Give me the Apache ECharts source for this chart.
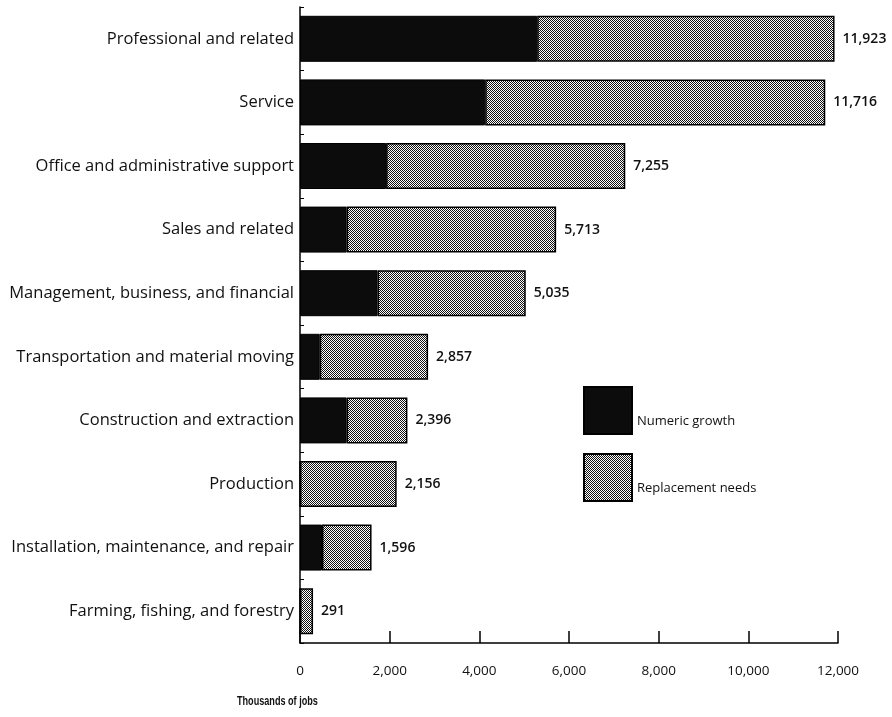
<!DOCTYPE html>
<html>
<head>
<meta charset="utf-8">
<script src="https://cdn.jsdelivr.net/npm/echarts@6/dist/echarts.min.js"></script>
<style>
html,body{margin:0;padding:0;background:#fff;}
#chart{width:892px;height:717px;}
</style>
</head>
<body>
<div id="chart"></div>
<script>
const categories = [
  "Professional and related",
  "Service",
  "Office and administrative support",
  "Sales and related",
  "Management, business, and financial",
  "Transportation and material moving",
  "Construction and extraction",
  "Production",
  "Installation, maintenance, and repair",
  "Farming, fishing, and forestry"
];
const totals = [11923, 11716, 7255, 5713, 5035, 2857, 2396, 2156, 1596, 291];
const numericGrowth = [5290, 4130, 1920, 1040, 1730, 440, 1040, 0, 490, 0];
const replacementNeeds = totals.map((t, i) => t - numericGrowth[i]);
const xTicks = [0, 2000, 4000, 6000, 8000, 10000, 12000];

// deterministic dither texture for the "replacement needs" fill
function makePattern() {
  const bayer = [
    [0, 8, 2, 10],
    [12, 4, 14, 6],
    [3, 11, 1, 9],
    [15, 7, 13, 5]
  ];
  const c = document.createElement('canvas');
  c.width = 8; c.height = 8;
  const ctx = c.getContext('2d');
  ctx.fillStyle = '#ffffff';
  ctx.fillRect(0, 0, 8, 8);
  ctx.fillStyle = '#111111';
  for (let y = 0; y < 8; y++) {
    for (let x = 0; x < 8; x++) {
      if (bayer[y % 4][x % 4] < 8) ctx.fillRect(x, y, 1, 1);
    }
  }
  return c;
}
const pattern = { image: makePattern(), repeat: 'repeat' };

const chart = echarts.init(document.getElementById('chart'));
const fontFam = '"Open Sans", "Liberation Sans", sans-serif';
chart.setOption({
  animation: false,
  grid: { left: 300, right: 54, top: 7, bottom: 74, containLabel: false },
  legend: {
    orient: 'vertical',
    left: 578,
    top: 381,
    itemWidth: 48,
    itemHeight: 47,
    itemGap: 18,
    formatter: '{t|{name}}',
    textStyle: {
      fontFamily: fontFam, fontSize: 13, color: '#111',
      rich: { t: { fontFamily: fontFam, fontSize: 13, color: '#111', padding: [22, 0, 0, 0] } }
    },
    data: [
      { name: 'Numeric growth', icon: 'rect' },
      { name: 'Replacement needs', icon: 'rect' }
    ]
  },
  xAxis: {
    type: 'value',
    min: xTicks[0],
    max: xTicks[xTicks.length - 1],
    interval: 2000,
    axisLine: { show: true, lineStyle: { color: '#000', width: 1.5 } },
    axisTick: { show: true, inside: true, length: 12, lineStyle: { color: '#000', width: 1.5 } },
    splitLine: { show: false },
    axisLabel: {
      margin: 21,
      fontFamily: fontFam,
      fontSize: 13.5,
      color: '#111',
      formatter: v => v.toLocaleString('en-US')
    }
  },
  yAxis: {
    type: 'category',
    inverse: true,
    data: categories,
    axisLine: { show: true, lineStyle: { color: '#000', width: 1.5 } },
    axisTick: { show: true, inside: true, length: 4, lineStyle: { color: '#000' } },
    axisLabel: {
      margin: 6,
      fontFamily: fontFam,
      fontSize: 16.5,
      color: '#111'
    }
  },
  series: [
    {
      name: 'Numeric growth',
      type: 'bar',
      stack: 'total',
      barWidth: 46,
      data: numericGrowth,
      itemStyle: { color: '#0c0c0c', borderColor: '#000', borderWidth: 1 }
    },
    {
      name: 'Replacement needs',
      type: 'bar',
      stack: 'total',
      barWidth: 46,
      data: replacementNeeds,
      itemStyle: { color: pattern, borderColor: '#000', borderWidth: 1.5 },
      label: {
        show: true,
        position: 'right',
        distance: 8,
        fontFamily: fontFam,
        fontSize: 14,
        fontWeight: 600,
        color: '#111',
        formatter: p => totals[p.dataIndex].toLocaleString('en-US')
      }
    }
  ],
  graphic: [
    {
      type: 'text',
      x: 237,
      y: 695,
      scaleX: 0.7,
      style: { text: 'Thousands of jobs', font: 'bold 13px "Liberation Sans", sans-serif', fill: '#111' }
    }
  ]
});
</script>
</body>
</html>
